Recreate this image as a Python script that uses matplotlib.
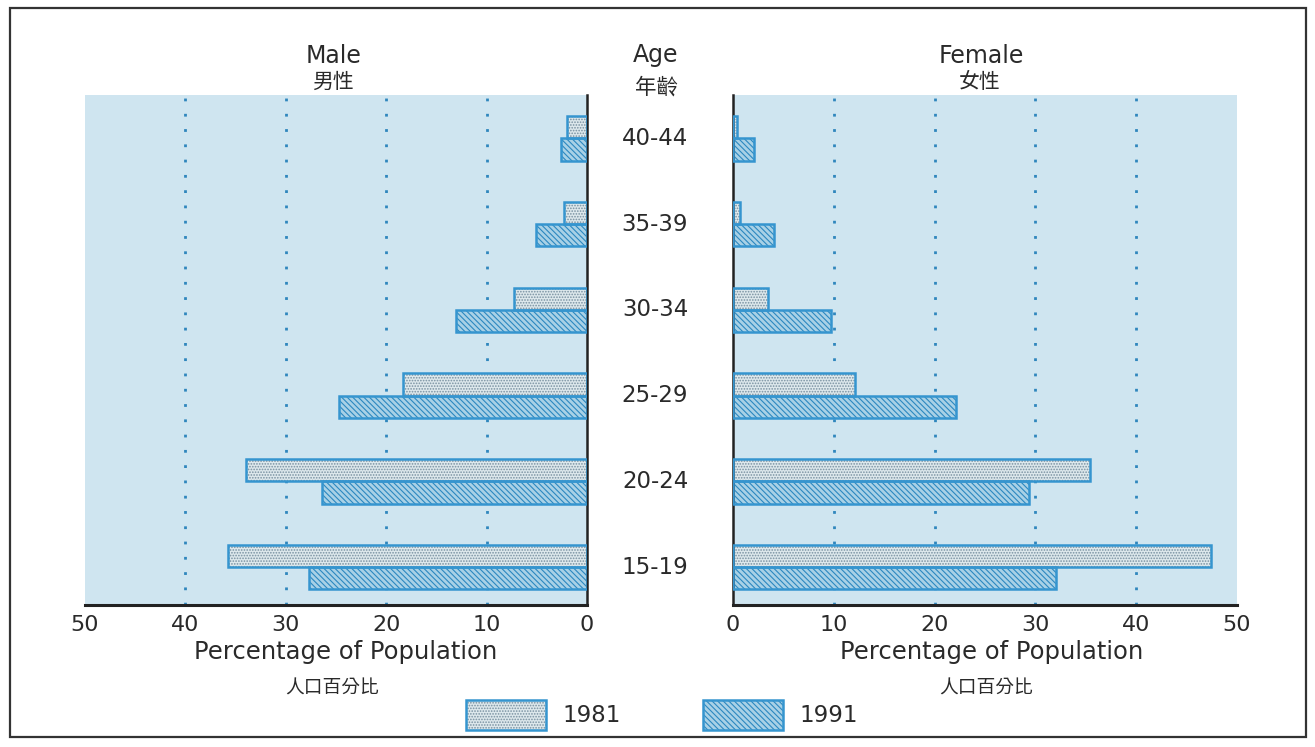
import matplotlib
matplotlib.use("Agg")
import matplotlib.pyplot as plt
from matplotlib.patches import Patch, Rectangle
from matplotlib.legend_handler import HandlerTuple
import matplotlib.transforms as mtransforms

plt.rcParams["font.family"] = ["DejaVu Sans", "Noto Sans CJK TC"]
plt.rcParams["hatch.linewidth"] = 0.8

AGES = ["15-19", "20-24", "25-29", "30-34", "35-39", "40-44"]
MALE_1981 = [35.8, 34.0, 18.3, 7.3, 2.3, 2.0]
MALE_1991 = [27.7, 26.4, 24.7, 13.0, 5.1, 2.6]
FEMALE_1981 = [47.4, 35.4, 12.1, 3.5, 0.7, 0.4]
FEMALE_1991 = [32.0, 29.4, 22.1, 9.7, 4.1, 2.1]
YEARS = ["1981", "1991"]
XTICKS = [0, 10, 20, 30, 40, 50]
GRID = [10, 20, 30, 40]

BG = "#cfe5f0"
EDGE = "#3595cf"
TEXT = "#2a2a2a"
W, H = 1315, 747

fig = plt.figure(figsize=(W / 100, H / 100), dpi=100)


def fx(px):
    return px / W


def fy(py):
    return 1 - py / H


axL = fig.add_axes([fx(85), fy(605), fx(587) - fx(85), fy(95) - fy(605)])
axR = fig.add_axes([fx(733), fy(605), fx(1237) - fx(733), fy(95) - fy(605)])

ypos = list(range(len(AGES)))
bh = 0.26

styles = {
    "1981": dict(facecolor="#dde8ec", hatch="......", edgecolor="#7890a0"),
    "1991": dict(facecolor="#a8d1e6", hatch="\\\\\\\\\\\\", edgecolor="#2c88c0"),
}

for ax, v81, v91 in ((axL, MALE_1981, MALE_1991), (axR, FEMALE_1981, FEMALE_1991)):
    ax.set_facecolor(BG)
    for g in GRID:
        ax.axvline(g, color="#2f86bd", lw=2, dashes=(1, 4.5), zorder=1)
    for vals, yr, off in ((v81, "1981", bh / 2), (v91, "1991", -bh / 2)):
        yy = [y + off for y in ypos]
        ax.barh(yy, vals, height=bh, lw=0, zorder=2, **styles[yr])
        ax.barh(yy, vals, height=bh, facecolor="none", edgecolor=EDGE,
                lw=1.8, zorder=3)
    ax.set_xlim(0, 50)
    ax.set_ylim(-0.443, 5.507)
    ax.set_yticks([])
    ax.set_xticks(XTICKS)
    ax.tick_params(axis="x", length=0, pad=7, labelsize=16, labelcolor=TEXT)
    ax.spines["top"].set_visible(False)
    ax.spines["bottom"].set_linewidth(2.2)
    ax.spines["bottom"].set_color("#222222")

axL.invert_xaxis()
axL.spines["left"].set_visible(False)
axL.spines["right"].set_linewidth(1.8)
axL.spines["right"].set_color("#222222")
axR.spines["right"].set_visible(False)
axR.spines["left"].set_linewidth(1.8)
axR.spines["left"].set_color("#222222")

# age labels in the gap
trans = mtransforms.blended_transform_factory(fig.transFigure, axL.transData)
for y, lab in zip(ypos, AGES):
    fig.text(fx(655), y, lab, transform=trans, ha="center", va="center",
             fontsize=16.5, color=TEXT)

# headers
fig.text(fx(334), fy(56), "Male", ha="center", va="center", fontsize=17, color=TEXT)
fig.text(fx(333), fy(82), "男性", ha="center", va="center", fontsize=15, color=TEXT)
fig.text(fx(656), fy(55), "Age", ha="center", va="center", fontsize=17, color=TEXT)
fig.text(fx(657), fy(87), "年齡", ha="center", va="center", fontsize=15.5, color=TEXT)
fig.text(fx(981), fy(56), "Female", ha="center", va="center", fontsize=17, color=TEXT)
fig.text(fx(980), fy(82), "女性", ha="center", va="center", fontsize=15, color=TEXT)

for cx in (346, 992):
    fig.text(fx(cx), fy(652), "Percentage of Population", ha="center", va="center",
             fontsize=17.5, color=TEXT)
for cx in (332, 986):
    fig.text(fx(cx), fy(688), "人口百分比", ha="center", va="center",
             fontsize=13.5, color=TEXT)

# legend
handles = []
for yr in YEARS:
    fill = Patch(lw=0, **styles[yr])
    outline = Patch(facecolor="none", edgecolor=EDGE, lw=1.8)
    handles.append((fill, outline))
fig.legend(handles, YEARS, handler_map={tuple: HandlerTuple(ndivide=1)},
           loc="center", bbox_to_anchor=(fx(662), fy(715)), ncol=2, frameon=False,
           fontsize=16.5, handlelength=3.5, handleheight=1.65, handletextpad=0.7,
           columnspacing=3.6, labelcolor=TEXT)

# outer frame
fig.patches.append(Rectangle((fx(10), fy(737)), fx(1306) - fx(10), fy(8) - fy(737),
                             transform=fig.transFigure, fill=False,
                             edgecolor="#333333", lw=1.6))

fig.savefig("out.png", dpi=100)
